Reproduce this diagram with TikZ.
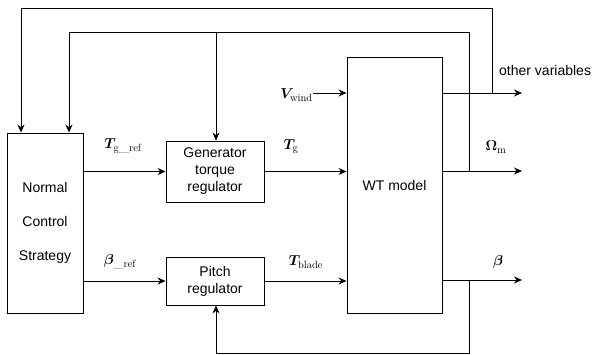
\documentclass[tikz,border=0pt]{standalone}
\usepackage{fontspec}
\setsansfont{Liberation Sans}
\usepackage{bm}
\usetikzlibrary{arrows.meta,calc}
\begin{document}
\begin{tikzpicture}[x=1pt,y=-1pt,
  blk/.style={draw,line width=0.9pt,rectangle,inner sep=0pt,align=center,font=\sffamily\fontsize{14}{17}\selectfont},
  conn/.style={line width=0.9pt},
  arr/.style={conn,-{Stealth[length=8pt,width=7pt]}},
  lbl/.style={inner sep=0pt,font=\fontsize{15}{17}\selectfont},
  txt/.style={inner sep=0pt,font=\sffamily\fontsize{14}{16}\selectfont}]
\useasboundingbox (0,0) rectangle (595,354);
\node[blk,minimum width=76pt,minimum height=180pt,font=\sffamily\fontsize{14}{34}\selectfont] (ncs) at (45,223) {Normal\\Control\\Strategy};
\node[blk,minimum width=98pt,minimum height=61pt] (gen) at (215,171.5) {Generator\\torque\\regulator};
\node[blk,minimum width=98pt,minimum height=48pt] (pitch) at (215,281) {Pitch\\regulator};
\node[blk,minimum width=95pt,minimum height=256pt] (wt) at (394.5,185) {WT model};
% labels
\node[lbl] (tgref) at (123,146) {$\bm{T}_{\mathrm{g\_ref}}$};
\node[lbl] (bref) at (120,262) {$\bm{\beta}_{\_\mathrm{ref}}$};
\node[lbl] (tg) at (291,147) {$\bm{T}_{\mathrm{g}}$};
\node[lbl] (tblade) at (306,262) {$\bm{T}_{\mathrm{blade}}$};
\node[lbl] (om) at (496,147) {$\bm{\Omega}_{\mathrm{m}}$};
\node[lbl] (beta) at (498,262) {$\bm{\beta}$};
\node[lbl,anchor=east] (vw) at (313,95) {$\bm{V}_{\mathrm{wind}}$};
\node[txt,anchor=west] (ov) at (499,70) {other variables};
% coordinates
\coordinate (oo) at (522,93);
\coordinate (oom) at (522,171);
\coordinate (ob) at (522,280);
\coordinate (j1) at (492,93);
\coordinate (j2) at (469,171);
\coordinate (j3) at (469,280);
\coordinate (t1) at (21,8);
\coordinate (t2) at (69,32);
\coordinate (t3) at (216,32);
\coordinate (b1) at (216,353);
% forward
\draw[arr] (ncs.east |- gen.west) -- (gen.west);
\draw[arr] (ncs.east |- pitch.west) -- (pitch.west);
\draw[arr] (gen.east) -- (gen.east -| wt.west);
\draw[arr] (pitch.east) -- (pitch.east -| wt.west);
\draw[arr] (vw.east |- oo) -- (wt.west |- oo);
\draw[arr] (wt.east |- oo) -- (oo);
\draw[arr] (wt.east |- oom) -- (oom);
\draw[arr] (wt.east |- ob) -- (ob);
% feedback
\draw[arr] (j1) |- (t1) -- (t1 |- ncs.north);
\draw[arr] (j2) |- (t2) -- (t2 |- ncs.north);
\draw[arr] (t3) -- (t3 |- gen.north);
\draw[arr] (j3) |- (b1) -- (b1 |- pitch.south);
\end{tikzpicture}
\end{document}
